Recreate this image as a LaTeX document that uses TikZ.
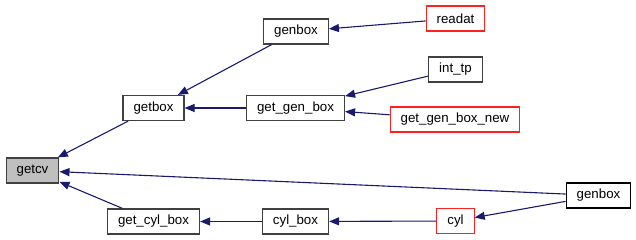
\documentclass[tikz,border=0pt]{standalone}
\usepackage{fontspec}
\setmainfont{Liberation Sans}
\usetikzlibrary{arrows.meta}
\definecolor{cgnavy}{HTML}{191970}
\definecolor{cggrey}{HTML}{404040}
\definecolor{cgself}{HTML}{BFBFBF}
\definecolor{cgred}{HTML}{FF2020}

\begin{document}
\begin{tikzpicture}[
          x=1pt, y=-1pt,
          fn/.style={draw=cggrey, line width=1.2pt, fill=white,
                     minimum height=25pt, inner xsep=10.5pt, inner ysep=0pt,
                     font=\fontsize{13.3}{16}\selectfont},
          fnself/.style={fn, fill=cgself},
          fnleaf/.style={fn, draw=black},
          fnred/.style={fn, draw=cgred},
          arr/.style={-{Triangle[length=10pt, width=8pt]}, line width=1.1pt, cgnavy}
        ]
        \useasboundingbox (0,0) rectangle (636,240);
        % first column: the function itself
        \node[fnself] (getcv) at (32.5,170.5) {getcv};
        % direct callers
        \node[fn] (getbox) at (153.5,108) {getbox};
        \node[fn] (getcylbox) at (153.5,221.5) {get\_cyl\_box};
        % second level
        \node[fn] (genboxa) at (296,31.5) {genbox};
        \node[fn] (getgenbox) at (295.5,108) {get\_gen\_box};
        \node[fn] (cylbox) at (295.5,221.5) {cyl\_box};
        % third level
        \node[fnred] (readat) at (455.5,18.5) {readat};
        \node[fn] (inttp) at (455.5,69.5) {int\_tp};
        \node[fnred] (getgenboxnew) at (455,119.5) {get\_gen\_box\_new};
        \node[fnred] (cyl) at (455.5,221) {cyl};
        % caller of both getcv and cyl
        \node[fnleaf] (genboxb) at (598.5,195.5) {genbox};

        \draw[arr] (getbox) -- (getcv);
        \draw[arr] (getcylbox) -- (getcv);
        \draw[arr] (genboxb) -- (getcv);
        \draw[arr] (genboxa) -- (getbox);
        \draw[arr] (getgenbox) -- (getbox);
        \draw[arr] (cylbox) -- (getcylbox);
        \draw[arr] (readat) -- (genboxa);
        \draw[arr] (inttp) -- (getgenbox);
        \draw[arr] (getgenboxnew) -- (getgenbox);
        \draw[arr] (cyl) -- (cylbox);
        \draw[arr] (genboxb) -- (cyl);
      \end{tikzpicture}
\end{document}
